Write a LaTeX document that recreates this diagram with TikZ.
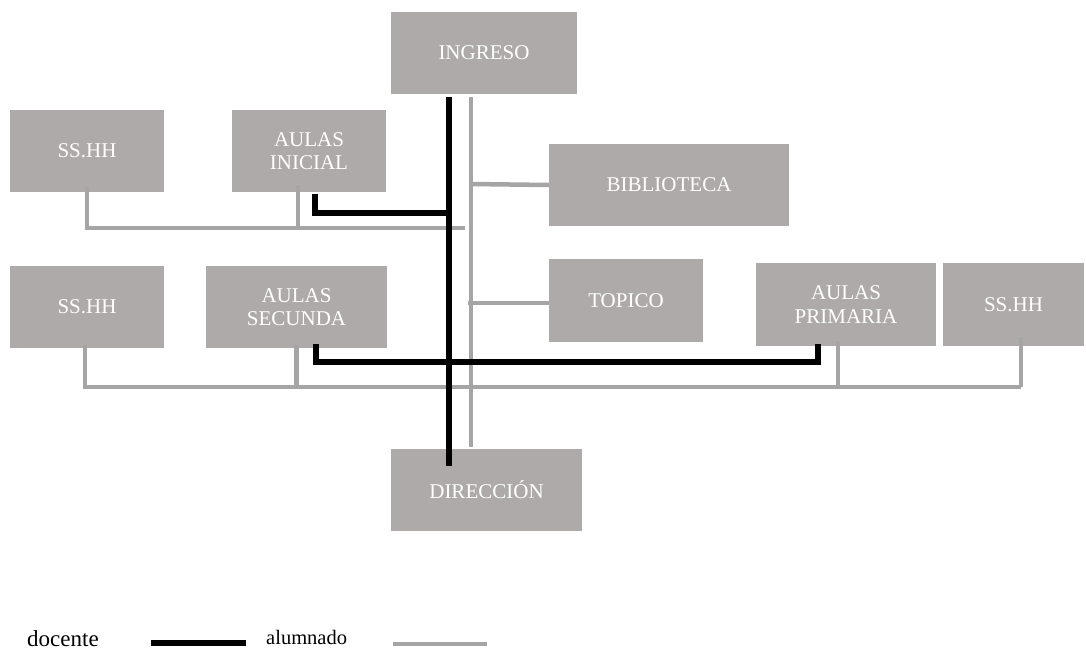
\documentclass[tikz,border=0pt]{standalone}
\usepackage{fontspec}
\setmainfont{Liberation Serif}
\definecolor{roomgray}{HTML}{AEAAAA}
\definecolor{pathgray}{HTML}{A5A5A5}
\begin{document}
\begin{tikzpicture}[x=1pt,y=-1pt,
  room/.style={rectangle, fill=roomgray, draw=none, text=white, align=center,
    inner sep=0pt, font=\fontsize{21}{23.5}\selectfont},
  docpath/.style={draw=black, line width=5.5pt, line join=miter},
  alupath/.style={draw=pathgray, line width=4.5pt, line join=miter},
  legend/.style={anchor=base west, inner sep=0pt}]
\useasboundingbox (0,0) rectangle (1086,651);

% rooms
\node[room, minimum width=186, minimum height=82] (ingreso)   at (484,53)     {INGRESO};
\node[room, minimum width=154, minimum height=82] (ssA)       at (87,151)     {SS.HH};
\node[room, minimum width=154, minimum height=82] (inicial)   at (309,151)    {AULAS\\INICIAL};
\node[room, minimum width=240, minimum height=82] (biblio)    at (669,185)    {BIBLIOTECA};
\node[room, minimum width=154, minimum height=82] (ssB)       at (87,307)     {SS.HH};
\node[room, minimum width=181, minimum height=82] (secunda)   at (296.5,307)  {AULAS\\SECUNDA};
\node[room, minimum width=154, minimum height=83] (topico)    at (626,300.5)  {TOPICO};
\node[room, minimum width=180, minimum height=83] (primaria)  at (846,304.5)  {AULAS\\PRIMARIA};
\node[room, minimum width=141, minimum height=83] (ssC)       at (1013.5,304.5) {SS.HH};
\node[room, minimum width=191, minimum height=82] (direccion) at (486.5,490)  {DIRECCIÓN};

% junction points of the corridors
\coordinate (aTop)   at (471,97);
\coordinate (aBot)   at (471,447);
\coordinate (aBib)   at (471,184);
\coordinate (aTop2)  at (468,303);
\coordinate (busA)   at (465,228);
\coordinate (busB)   at (1021,387);
\coordinate (dTop)   at (449,97);
\coordinate (dBot)   at (449,466);
\coordinate (dIni)   at (449,213);

% student routes (grey)
\draw[alupath] (aTop) -- (aBot);
\draw[alupath] (aBib) -- (biblio.west);
\draw[alupath] (aTop2) -- ([yshift=-2.5pt]topico.west);
\draw[alupath] ([yshift=5pt]ssA.south) |- (busA);
\draw[alupath] ([xshift=-11pt,yshift=7pt]inicial.south) -- ([xshift=-11pt]inicial.south |- busA);
\draw[alupath] ([xshift=-2pt,yshift=3pt]ssB.south) |- (busB);
\draw[alupath] ([yshift=3pt]secunda.south) -- (secunda.south |- busB);
\draw[alupath] ([xshift=-8pt,yshift=5pt]primaria.south) -- ([xshift=-8pt]primaria.south |- busB);
\draw[alupath] ([xshift=7.5pt,yshift=9pt]ssC.south) -- (busB);

% teacher routes (black)
\draw[docpath] (dTop) -- (dBot);
\draw[docpath] ([xshift=6pt,yshift=-2pt]inicial.south) |- (dIni);
\draw[docpath] ([xshift=19.5pt,yshift=4pt]secunda.south) -- ++(0,18) -| ([xshift=-28pt,yshift=2pt]primaria.south);

% legend
\node[legend, font=\fontsize{23}{27}\selectfont] (ldoc) at (27,646) {docente};
\node[legend, font=\fontsize{20.5}{24}\selectfont] (lalu) at (266,644) {alumnado};
\coordinate (ld1) at (151,643);
\coordinate (ld2) at (246,643);
\coordinate (la1) at (393,644);
\coordinate (la2) at (487,644);
\draw[docpath, line width=6pt] (ld1) -- (ld2);
\draw[alupath, line width=4pt] (la1) -- (la2);
\end{tikzpicture}
\end{document}
